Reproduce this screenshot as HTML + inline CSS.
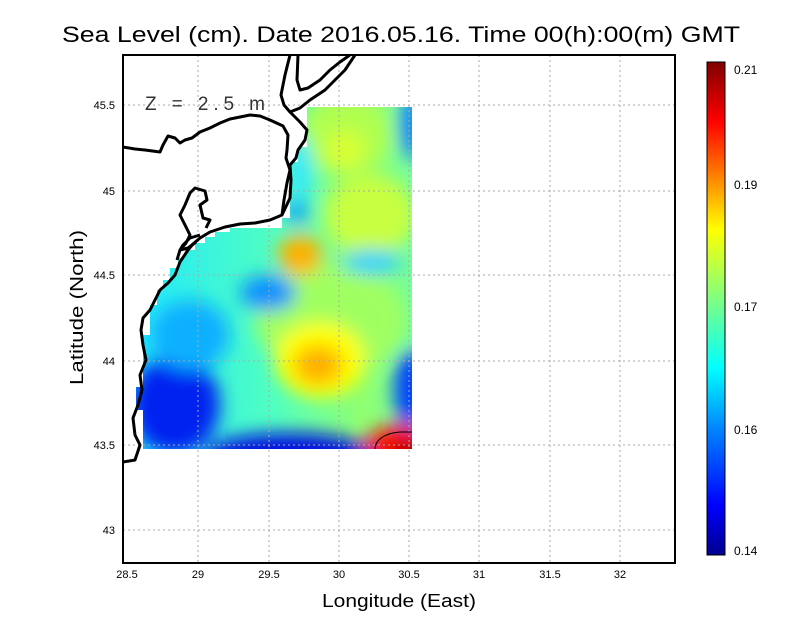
<!DOCTYPE html>
<html><head><meta charset="utf-8"><style>
body{margin:0;background:#fff;}
svg text{font-family:"Liberation Sans",sans-serif;}
</style></head><body>
<svg width="800" height="618" xmlns="http://www.w3.org/2000/svg">
<defs>
<clipPath id="dc"><path d="M307,107 L412,107 L412,449 L143,449 L143,410 L136,410 L136,387 L143,387 L143,335 L150,335 L150,305 L157,305 L157,290 L163,290 L163,280 L170,280 L170,268 L178,268 L178,258 L185,258 L185,250 L195,250 L195,243 L205,243 L205,237 L215,237 L215,232 L230,232 L230,228 L282,228 L282,218 L290,218 L290,162 L298,162 L298,147 L307,147 Z"/></clipPath>
<filter id="bl" x="-50%" y="-50%" width="200%" height="200%"><feGaussianBlur stdDeviation="9"/></filter>
<linearGradient id="base" x1="0" y1="0" x2="1" y2="0">
<stop offset="0" stop-color="#20e8ff"/><stop offset="0.5" stop-color="#50ffc0"/><stop offset="0.8" stop-color="#90ff70"/><stop offset="1" stop-color="#70ffa0"/></linearGradient>
<linearGradient id="jet" x1="0" y1="1" x2="0" y2="0">
<stop offset="0" stop-color="#00008f"/><stop offset="0.1" stop-color="#0000ff"/><stop offset="0.25" stop-color="#0080ff"/><stop offset="0.38" stop-color="#00ffff"/><stop offset="0.52" stop-color="#80ff80"/><stop offset="0.66" stop-color="#ffff00"/><stop offset="0.88" stop-color="#ff0000"/><stop offset="1" stop-color="#800000"/></linearGradient>
</defs>
<g clip-path="url(#dc)">
<rect x="130" y="100" width="290" height="360" fill="url(#base)"/>
<g filter="url(#bl)">
<ellipse cx="345" cy="135" rx="45" ry="40" fill="#b0ff50"/>
<ellipse cx="345" cy="150" rx="20" ry="20" fill="#d8ff30"/>
<ellipse cx="370" cy="215" rx="45" ry="40" fill="#c8ff40"/>
<ellipse cx="330" cy="320" rx="75" ry="55" fill="#a0ff60"/>
<ellipse cx="320" cy="360" rx="45" ry="38" fill="#ffff00"/>
<ellipse cx="318" cy="365" rx="24" ry="20" fill="#ffb000"/>
<ellipse cx="300" cy="255" rx="22" ry="20" fill="#ffb000"/>
<ellipse cx="268" cy="293" rx="28" ry="18" fill="#1090ff"/>
<ellipse cx="300" cy="170" rx="12" ry="35" fill="#30e8ff"/>
<ellipse cx="297" cy="212" rx="12" ry="12" fill="#10a0ff"/>
<ellipse cx="372" cy="262" rx="30" ry="12" fill="#20d0ff"/>
<ellipse cx="175" cy="405" rx="45" ry="50" fill="#0020f0"/>
<ellipse cx="190" cy="335" rx="40" ry="35" fill="#10b0ff"/>
<ellipse cx="290" cy="455" rx="85" ry="22" fill="#0010e0"/>
<ellipse cx="412" cy="390" rx="18" ry="40" fill="#0040ff"/>
<ellipse cx="400" cy="447" rx="35" ry="22" fill="#ff1000"/>
<ellipse cx="408" cy="452" rx="18" ry="10" fill="#a00000"/>
<ellipse cx="412" cy="125" rx="12" ry="35" fill="#1080ff"/>
</g>
</g>
<g stroke="#aaa" stroke-dasharray="2,3" stroke-width="1">
<line x1="198" y1="55" x2="198" y2="563"/><line x1="269" y1="55" x2="269" y2="563"/><line x1="339" y1="55" x2="339" y2="563"/><line x1="409" y1="55" x2="409" y2="563"/><line x1="479" y1="55" x2="479" y2="563"/><line x1="550" y1="55" x2="550" y2="563"/><line x1="620" y1="55" x2="620" y2="563"/>
<line x1="123" y1="105" x2="675" y2="105"/><line x1="123" y1="191" x2="675" y2="191"/><line x1="123" y1="275" x2="675" y2="275"/><line x1="123" y1="361" x2="675" y2="361"/><line x1="123" y1="445" x2="675" y2="445"/><line x1="123" y1="530" x2="675" y2="530"/>
</g>
<g fill="none" stroke="#000" stroke-width="3" stroke-linejoin="round">
<path d="M123,147 L135,149 L145,150 L160,152 L163,145 L168,136 L175,138 L180,143 L185,140 L192,138 L200,132 L210,128 L220,123 L230,119 L240,117 L250,115 L260,116 L270,120 L283,126 L288,135 L287,150 L286,158 L290,170 L287,183 L284,200 L282,215 L270,220 L255,223 L240,224 L225,227 L210,232 L200,238 L193,244 L188,250 L180,262 L175,275 L168,283 L160,290 L155,300 L150,310 L143,318 L141,330 L143,345 L146,360 L140,375 L142,390 L138,405 L133,418 L135,435 L140,445 L135,460 L123,462"/>
<path d="M282,215 L290,198 L291,180 L290,165 L296,158 L298,150 L305,140 L307,130 L300,122 L290,112 L284,105 L281,95 L285,75 L290,55"/>
<path d="M298,55 L297,80 L300,90 L308,88 L320,80 L330,70 L340,62 L350,55"/>
<path d="M290,112 L300,108 L310,100 L325,90 L345,70 L355,55"/>
<path d="M200,235 L190,238 L183,245 L180,250 L188,248 L196,242"/>
<path d="M177,260 L180,250 L186,243 L190,235 L185,225 L180,215 L185,205 L190,193 L195,188 L205,191 L207,200 L200,205 L203,218 L210,220 L206,228"/>
</g>
<path d="M375,449 C375,440 385,433 400,432 L412,432" fill="none" stroke="#000" stroke-width="1"/>
<rect x="123" y="55" width="552" height="508" fill="none" stroke="#000" stroke-width="2"/>
<text x="145" y="110" font-size="19" fill="#333" textLength="120" lengthAdjust="spacing">Z = 2.5 m</text>
<g font-size="11" text-anchor="middle" fill="#000">
<text x="127" y="578">28.5</text><text x="198" y="578">29</text><text x="269" y="578">29.5</text><text x="339" y="578">30</text><text x="409" y="578">30.5</text><text x="479" y="578">31</text><text x="550" y="578">31.5</text><text x="620" y="578">32</text>
</g>
<g font-size="11" text-anchor="end">
<text x="115" y="109">45.5</text><text x="115" y="195">45</text><text x="115" y="279">44.5</text><text x="115" y="365">44</text><text x="115" y="449">43.5</text><text x="115" y="534">43</text>
</g>
<text x="322" y="607" font-size="18" textLength="154" lengthAdjust="spacingAndGlyphs">Longitude (East)</text>
<text transform="translate(83,385) rotate(-90)" font-size="18" textLength="155" lengthAdjust="spacingAndGlyphs">Latitude (North)</text>
<text x="62" y="42" font-size="22" textLength="678" lengthAdjust="spacingAndGlyphs">Sea Level (cm). Date 2016.05.16. Time 00(h):00(m) GMT</text>
<rect x="707" y="62" width="18" height="493" fill="url(#jet)" stroke="#000" stroke-width="1"/>
<g font-size="12">
<text x="734" y="74">0.21</text><text x="734" y="189">0.19</text><text x="734" y="311">0.17</text><text x="734" y="434">0.16</text><text x="734" y="555">0.14</text>
</g>
</svg>
</body></html>
